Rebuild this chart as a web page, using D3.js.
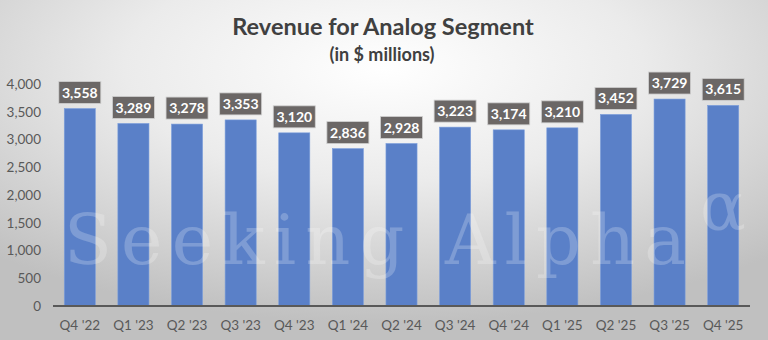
<!DOCTYPE html>
<html><head><meta charset="utf-8">
<script src="https://cdn.jsdelivr.net/npm/d3@7/dist/d3.min.js"></script>
<style>html,body{margin:0;padding:0;background:#fff;}svg{display:block;}</style>
</head><body>
<script>
const categories = ["Q4 '22","Q1 '23","Q2 '23","Q3 '23","Q4 '23","Q1 '24","Q2 '24","Q3 '24","Q4 '24","Q1 '25","Q2 '25","Q3 '25","Q4 '25"];
const revenue = [3558,3289,3278,3353,3120,2836,2928,3223,3174,3210,3452,3729,3615];
const yTicks = [0,500,1000,1500,2000,2500,3000,3500,4000];
const titleText = "Revenue for Analog Segment";
const subtitleText = "(in $ millions)";

const W = 768, H = 340;
const svg = d3.select("body").append("svg").attr("width", W).attr("height", H);
const defs = svg.append("defs");
const rg = defs.append("radialGradient").attr("id","bg")
  .attr("cx","50%").attr("cy","20%").attr("r","75%")
  .attr("fx","50%").attr("fy","20%");
rg.append("stop").attr("offset","0%").attr("stop-color","#ffffff");
rg.append("stop").attr("offset","45%").attr("stop-color","#ebebeb");
rg.append("stop").attr("offset","100%").attr("stop-color","#c0c0c0");
svg.append("rect").attr("width",W).attr("height",H).attr("fill","url(#bg)");

const font = "Lato, 'Open Sans', sans-serif";
svg.append("text").attr("x",383).attr("y",35).attr("text-anchor","middle")
  .attr("font-family",font).attr("font-weight","bold").attr("font-size",23.5)
  .attr("fill","#404040").text(titleText);
svg.append("text").attr("x",382).attr("y",61).attr("text-anchor","middle")
  .attr("font-family",font).attr("font-weight","bold").attr("font-size",18)
  .attr("fill","#404040").text(subtitleText);

const x = d3.scaleBand().domain(categories).range([53,750]).paddingInner(0.42).paddingOuter(0.21);
const y = d3.scaleLinear().domain([0,4000]).range([306,84]);

// bars
svg.append("g").selectAll("rect").data(revenue).join("rect")
  .attr("x",(d,i)=>x(categories[i])).attr("width",x.bandwidth())
  .attr("y",d=>y(d)).attr("height",d=>y(0)-y(d))
  .attr("fill","#5a80c8").attr("stroke","#7d9fdc").attr("stroke-width",0.6);

// watermark
svg.append("text").attr("x",64).attr("y",264)
  .attr("font-family","'DejaVu Serif', 'Liberation Serif', serif").attr("font-size",70)
  .attr("textLength",622).attr("lengthAdjust","spacing")
  .attr("fill","#ffffff").attr("fill-opacity",0.22).text("Seeking Alpha");
svg.append("text").attr("x",700).attr("y",230)
  .attr("font-family","'DejaVu Serif', 'Liberation Serif', serif").attr("font-size",68)
  .attr("fill","#ffffff").attr("fill-opacity",0.22).text("α");

// y axis
const yAxis = d3.axisLeft(y).tickValues(yTicks).tickSize(0).tickPadding(0).tickFormat(d3.format(","));
const ya = svg.append("g").attr("transform","translate(41,0)").call(yAxis);
ya.select(".domain").remove();
ya.selectAll("text").attr("font-family",font).attr("font-size",13.5).attr("fill","#595959");

// x axis
const xAxis = d3.axisBottom(x).tickSize(0).tickPadding(14);
const xa = svg.append("g").attr("transform","translate(0,306)").call(xAxis);
xa.select(".domain").attr("stroke","#595959").attr("stroke-width",2).attr("d","M53,0H750");
xa.selectAll("text").attr("font-family",font).attr("font-size",13.5).attr("fill","#595959");

// data labels
const lg = svg.append("g").selectAll("g").data(revenue).join("g")
  .attr("transform",(d,i)=>`translate(${x(categories[i])+x.bandwidth()/2},${y(d)-16})`);
lg.append("rect").attr("x",-21).attr("y",-11).attr("width",42).attr("height",22)
  .attr("fill","#6b6766").attr("stroke","#d0d0d0").attr("stroke-width",0.8);
lg.append("text").attr("text-anchor","middle").attr("dy","0.36em")
  .attr("font-family",font).attr("font-weight","bold").attr("font-size",14)
  .attr("fill","#ffffff").text(d=>d3.format(",")(d));
</script>
</body></html>
